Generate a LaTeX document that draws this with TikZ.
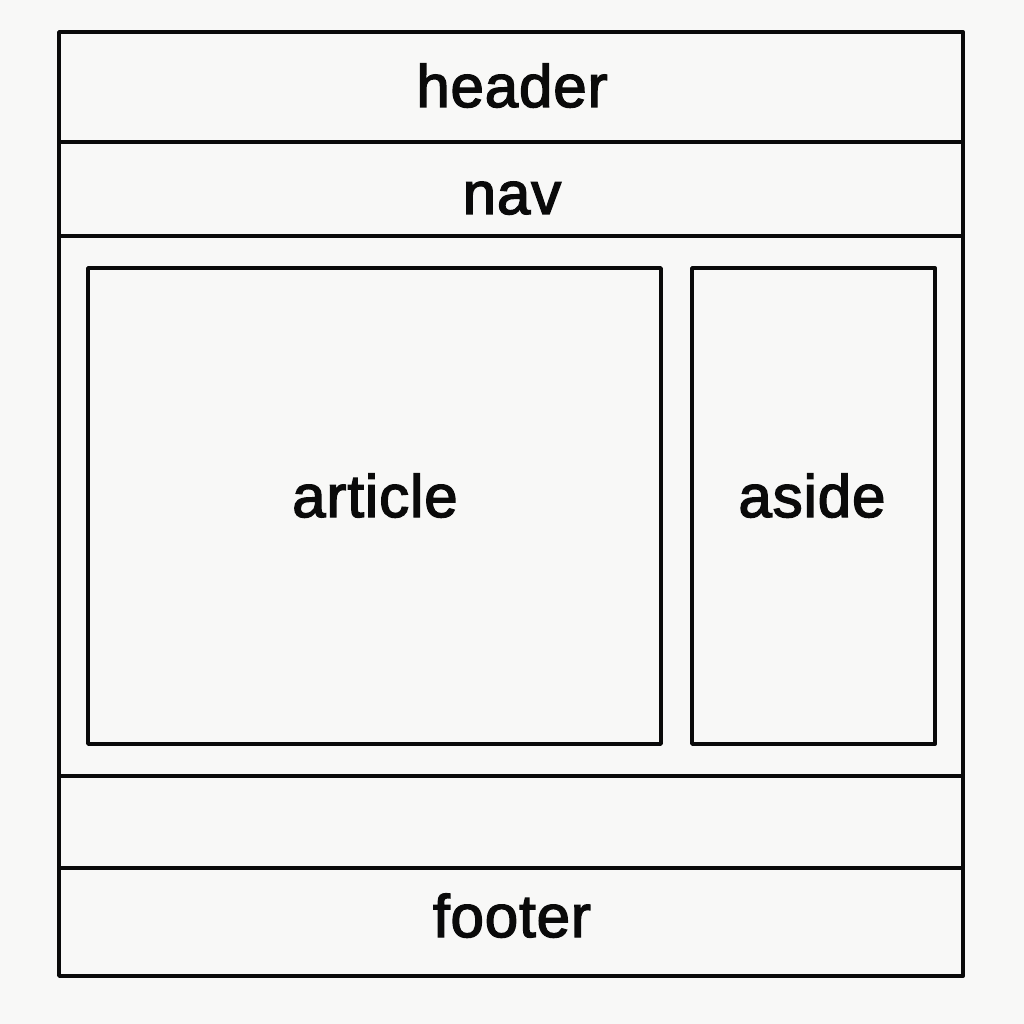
\documentclass[tikz,border=0pt]{standalone}
\usepackage{fontspec}
\setmainfont{Liberation Sans}
\newfontfamily\lblfont[FakeBold=2.4,LetterSpace=1.5]{Liberation Sans}
\definecolor{bg}{HTML}{F8F8F7}
\definecolor{ink}{HTML}{0A0A0A}
\begin{document}
\begin{tikzpicture}[x=1pt,y=-1pt,
  box/.style={draw=ink,line width=3.8pt,line join=round},
  lbl/.style={font=\lblfont\fontsize{60}{62}\selectfont,text=ink,inner sep=0pt,anchor=base}]
\fill[bg] (0,0) rectangle (1024,1024);
\useasboundingbox (0,0) rectangle (1024,1024);
\coordinate (o1) at (59,32);
\coordinate (o2) at (963,976);
\draw[box] (o1) rectangle (o2);
\coordinate (h1) at (59,142); \coordinate (h2) at (963,142);
\coordinate (n1) at (59,236); \coordinate (n2) at (963,236);
\coordinate (m1) at (59,776); \coordinate (m2) at (963,776);
\coordinate (f1) at (59,868); \coordinate (f2) at (963,868);
\draw[box] (h1) -- (h2);
\draw[box] (n1) -- (n2);
\draw[box] (m1) -- (m2);
\draw[box] (f1) -- (f2);
\draw[box] (88,268) rectangle (661,744);
\draw[box] (692,268) rectangle (935,744);
\node[lbl] (header) at (512,107) {header};
\node[lbl] (nav) at (512,214) {nav};
\node[lbl] (article) at (375,517) {article};
\node[lbl] (aside) at (812,517) {aside};
\node[lbl] (footer) at (512,937) {footer};
\end{tikzpicture}
\end{document}
